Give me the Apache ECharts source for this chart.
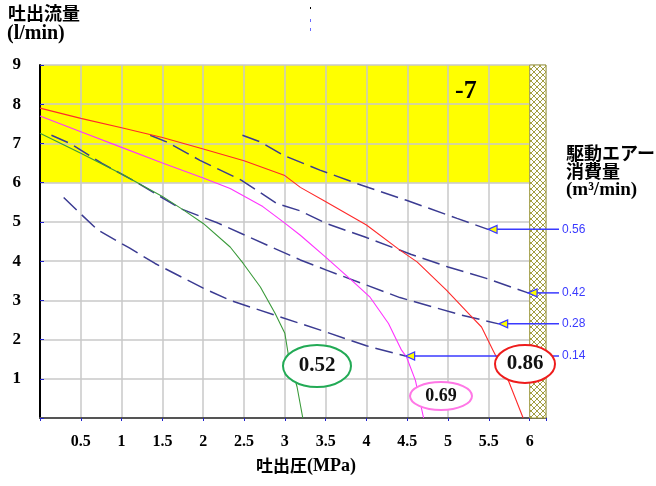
<!DOCTYPE html>
<html><head><meta charset="utf-8">
<script src="https://cdn.jsdelivr.net/npm/echarts@6/dist/echarts.min.js"></script>
<style>html,body{margin:0;padding:0;background:#fff}#c{width:656px;height:486px}</style>
</head><body><div id="c"></div>
<script>
// ---- data ----
const xTickLabels = [0.5, 1, 1.5, 2, 2.5, 3, 3.5, 4, 4.5, 5, 5.5, 6];
const yTickLabels = [1, 2, 3, 4, 5, 6, 7, 8, 9];
// pump curves (pressure MPa, flow l/min)
const curve052 = [[0,7.26],[0.5,6.75],[1.0,6.22],[1.5,5.65],[1.76,5.3],[2.0,4.96],[2.33,4.36],[2.49,3.94],[2.7,3.34],[2.88,2.67],[3.0,2.16],[3.04,1.65],[3.15,0.79],[3.22,0]];
const curve069 = [[0,7.7],[0.5,7.3],[1.0,6.9],[1.5,6.5],[2.0,6.12],[2.33,5.85],[2.73,5.39],[2.98,5.0],[3.19,4.66],[3.5,4.1],[3.82,3.51],[4.04,3.09],[4.27,2.41],[4.43,1.73],[4.49,1.56],[4.6,0.96],[4.7,0]];
const curve086 = [[0,7.9],[0.5,7.64],[1.0,7.4],[1.5,7.15],[2.0,6.86],[2.5,6.56],[3.0,6.18],[3.19,5.88],[3.47,5.55],[4.0,4.92],[4.41,4.28],[4.62,3.98],[4.98,3.26],[5.27,2.62],[5.41,2.32],[5.55,1.73],[5.74,0.95],[5.92,0]];
// air consumption lines (m3/min)
const air014 = [[0.29,5.62],[0.49,5.22],[0.71,4.79],[1.1,4.33],[1.41,3.94],[2.0,3.31],[2.33,3.0],[2.88,2.62],[3.51,2.19],[4.0,1.84],[4.33,1.66],[4.48,1.58]];
const air028 = [[0.14,7.21],[0.37,7.0],[0.76,6.49],[1.14,6.06],[1.72,5.34],[2.18,4.97],[2.78,4.41],[3.19,4.03],[3.51,3.77],[4.41,3.07],[5.17,2.62],[5.62,2.40]];
const air042 = [[1.35,7.21],[1.55,7.04],[1.96,6.57],[2.47,6.06],[2.9,5.47],[3.19,5.28],[3.51,4.96],[4.0,4.6],[4.55,4.17],[5.0,3.85],[5.47,3.56],[5.98,3.19]];
const air056 = [[2.48,7.21],[2.7,7.04],[2.98,6.7],[3.43,6.32],[3.88,5.98],[4.49,5.55],[5.11,5.09],[5.49,4.81]];
const airLabels = ['0.14', '0.28', '0.42', '0.56'];
const zoneYellow = [[0, 6, 6, 9]];     // x0, y0, x1, y1
const zoneHatch = [[6, 0, 6.2, 9]];

// ---- rendering ----
const chart = echarts.init(document.getElementById('c'), null, {renderer: 'canvas'});
const pc = document.createElement('canvas'); pc.width = 6; pc.height = 6;
const g = pc.getContext('2d'); g.fillStyle = '#ffffff'; g.fillRect(0, 0, 6, 6);
g.strokeStyle = '#a29e42'; g.lineWidth = 1;
g.beginPath(); g.moveTo(0, 0); g.lineTo(6, 6); g.moveTo(6, 0); g.lineTo(0, 6); g.stroke();

const numFont = '"Liberation Serif", "Times New Roman", serif';
const jpFont = '"Noto Sans CJK JP", sans-serif';
const airSets = [air014, air028, air042, air056];
const dashColor = '#3b3b92';

function rectItem(fill, stroke) {
  return function (params, api) {
    const p0 = api.coord([api.value(0), api.value(3)]);
    const p1 = api.coord([api.value(2), api.value(1)]);
    return {type: 'rect', shape: {x: p0[0], y: p0[1], width: p1[0] - p0[0], height: p1[1] - p0[1]},
      style: stroke ? {fill: fill, stroke: stroke, lineWidth: 1} : {fill: fill}};
  };
}

const series = [
  {type: 'custom', z: -1, silent: true, data: zoneYellow, renderItem: rectItem('#ffff00')},
  {type: 'custom', z: 3, silent: true, data: zoneHatch, renderItem: rectItem({image: pc, repeat: 'repeat'}, '#a29e42')},
];
airSets.forEach(function (d) {
  series.push({type: 'line', data: d, symbol: 'none', silent: true, z: 4,
    lineStyle: {color: dashColor, width: 1.5, type: [18, 7]}});
});
[[curve052, '#3a9a3a'], [curve069, '#ff33ff'], [curve086, '#ff2a2a']].forEach(function (c) {
  series.push({type: 'line', data: c[0], symbol: 'none', silent: true, z: 5,
    lineStyle: {color: c[1], width: 1.1}});
});
// annotation arrows from each air line end to its label
series.push({type: 'custom', z: 6, silent: true, clip: false,
  data: airSets.map(function (d, i) { const e = d[d.length - 1]; return [e[0], e[1], i]; }),
  renderItem: function (params, api) {
    const p = api.coord([api.value(0), api.value(1)]);
    const xr = api.coord([6.2, 0])[0] + 13;
    const lab = airLabels[api.value(2)];
    return {type: 'group', children: [
      {type: 'line', shape: {x1: p[0] + 8, y1: p[1], x2: xr, y2: p[1]}, style: {stroke: '#3a3aff', lineWidth: 1.5}},
      {type: 'polygon', shape: {points: [[p[0], p[1]], [p[0] + 9, p[1] - 4], [p[0] + 9, p[1] + 4]]},
        style: {fill: '#ffff00', stroke: '#3a3aff', lineWidth: 1.2}},
      {type: 'text', style: {text: lab, x: xr + 3, y: p[1], verticalAlign: 'middle', align: 'left',
        fill: '#3a3aff', font: '12px "Liberation Sans", Arial, sans-serif'}}
    ]};
  }});

function ellipseLabel(cx, cy, rx, ry, color, txt, fs) {
  return [
    {type: 'ellipse', z: 100, shape: {cx: cx, cy: cy, rx: rx, ry: ry}, style: {fill: '#fff', stroke: color, lineWidth: 2}},
    {type: 'text', z: 101, x: cx, y: cy, style: {text: txt, align: 'center', verticalAlign: 'middle',
      font: 'bold ' + fs + 'px ' + numFont, fill: '#111'}}
  ];
}

const option = {
  animation: false,
  backgroundColor: '#fff',
  grid: {left: 40, right: 110, top: 65, bottom: 68, containLabel: false},
  xAxis: {type: 'value', min: 0, max: 6.2, interval: 0.5,
    axisLine: {lineStyle: {color: '#555', width: 2}},
    axisTick: {show: true, length: 3, lineStyle: {color: '#2222cc'}},
    splitLine: {show: true, lineStyle: {color: '#c8c8c8', width: 1.5}},
    axisLabel: {margin: 16, color: '#000', fontFamily: numFont, fontWeight: 'bold', fontSize: 16,
      showMinLabel: true, showMaxLabel: true,
      formatter: function (v) { return xTickLabels.some(function (t) { return Math.abs(t - v) < 1e-6; }) ? String(v) : ''; }}},
  yAxis: {type: 'value', min: 0, max: 9, interval: 1,
    axisLine: {show: true, lineStyle: {color: '#000', width: 2}},
    axisTick: {show: true, inside: true, length: 4, lineStyle: {color: '#2222cc'}},
    splitLine: {show: true, lineStyle: {color: '#c8c8c8', width: 1.5}},
    axisLabel: {margin: 19, color: '#000', fontFamily: numFont, fontWeight: 'bold', fontSize: 17,
      formatter: function (v) { return yTickLabels.indexOf(v) >= 0 ? String(v) : ''; }}},
  series: series,
  graphic: [
    {type: 'text', left: 8, top: 4, style: {text: '吐出流量', font: 'bold 18px ' + jpFont, fill: '#000'}},
    {type: 'text', left: 7, top: 24, style: {text: '(l/min)', font: 'bold 20px ' + numFont, fill: '#000'}},
    {type: 'text', left: 256, top: 457, style: {text: '{a|吐出圧}{b|(MPa)}', fill: '#000',
      rich: {a: {font: 'bold 17px ' + jpFont}, b: {font: 'bold 18px ' + numFont}}}},
    {type: 'text', left: 566, top: 144, style: {text: '駆動エアー\n消費量', lineHeight: 18, font: 'bold 18px ' + jpFont, fill: '#000'}},
    {type: 'text', left: 566, top: 181, style: {text: '(m³/min)', font: 'bold 19px ' + numFont, fill: '#000'}},
    {type: 'text', left: 455, top: 78, z: 50, style: {text: '-7', font: 'bold 26px ' + numFont, fill: '#000'}},
    {type: 'rect', left: 310, top: 7, shape: {width: 1, height: 2}, style: {fill: '#000'}},
    {type: 'rect', left: 310, top: 19, shape: {width: 1, height: 3}, style: {fill: '#6a6aff'}},
    {type: 'rect', left: 310, top: 28, shape: {width: 1, height: 3}, style: {fill: '#6a6aff'}}
  ].concat(ellipseLabel(317, 366, 34, 21, '#22aa55', '0.52', 21))
   .concat(ellipseLabel(441, 396, 31, 14, '#ff77e6', '0.69', 18))
   .concat(ellipseLabel(525, 364, 30, 19, '#ee1c1c', '0.86', 21))
};
chart.setOption(option);
</script>
</body></html>
